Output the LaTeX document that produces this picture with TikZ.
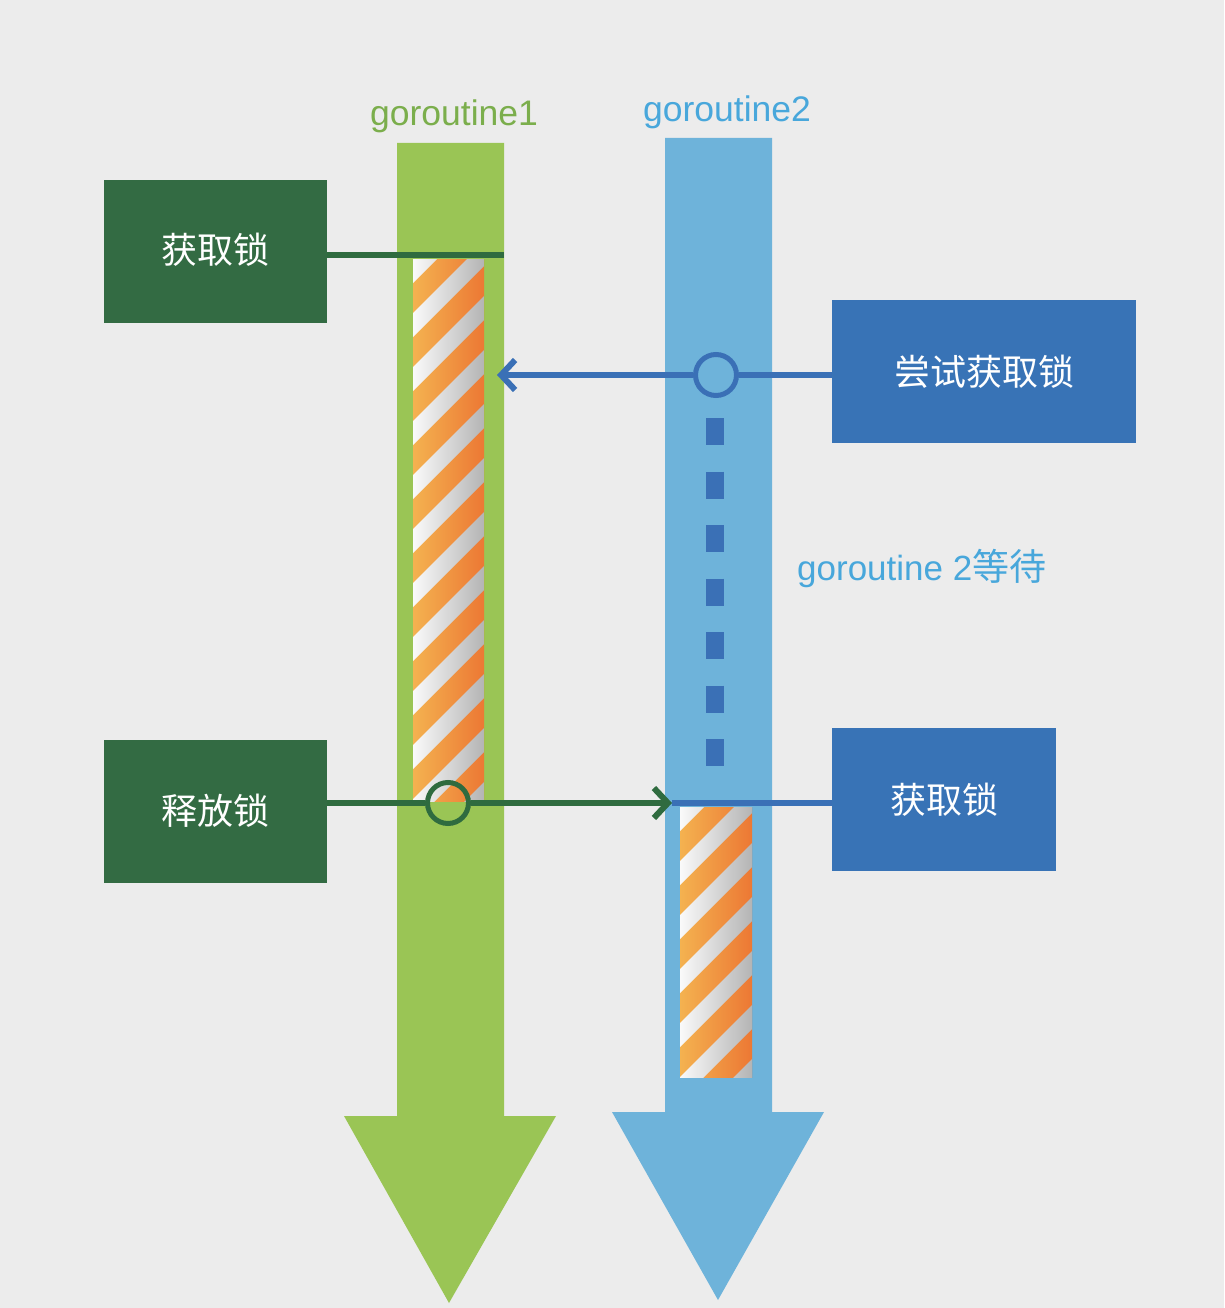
\documentclass[tikz,border=0pt]{standalone}
\usepackage{fontspec}
\setmainfont{Liberation Sans}
\newfontfamily\cjk{Noto Sans CJK SC}
\usetikzlibrary{arrows.meta}
\definecolor{bg}{HTML}{ECECEC}
\definecolor{garrow}{HTML}{9AC555}
\definecolor{barrow}{HTML}{6EB3DA}
\definecolor{gboxc}{HTML}{336B43}
\definecolor{bboxc}{HTML}{3873B6}
\definecolor{glinec}{HTML}{2F6B3F}
\definecolor{blinec}{HTML}{3A70B6}
\definecolor{gtext}{HTML}{7BAE4C}
\definecolor{btext}{HTML}{48A7DB}
\definecolor{orL}{HTML}{F4B250}
\definecolor{orR}{HTML}{EC7834}
\definecolor{whL}{HTML}{FAFAFA}
\definecolor{whR}{HTML}{B4B4B4}
\newcommand\candy[4]{%
  \begin{scope}
    \clip (#1,#2) rectangle (#3,#4);
    \shade[left color=orL, right color=orR] (#1,#2) rectangle (#3,#4);
    \pgfmathsetmacro\cw{#3-#1}
    \foreach \k in {-2,...,13}{
      \pgfmathsetmacro\ya{#2+\k*54}
      \shade[left color=whL, right color=whR]
        (#1,\ya) -- (#3,{\ya-\cw}) -- (#3,{\ya-\cw+24}) -- (#1,{\ya+24}) -- cycle;
    }
  \end{scope}}
\tikzset{
  gbox/.style={rectangle, fill=gboxc, text=white, minimum width=223pt, minimum height=143pt, inner sep=0pt, font=\cjk\fontsize{36}{40}\selectfont},
  bbox/.style={rectangle, fill=bboxc, text=white, minimum height=143pt, inner sep=0pt, font=\cjk\fontsize{36}{40}\selectfont},
  gline/.style={draw=glinec, line width=6pt},
  bline/.style={draw=blinec, line width=6pt},
  gcirc/.style={circle, draw=glinec, line width=5pt, minimum size=41pt, inner sep=0pt},
  bcirc/.style={circle, draw=blinec, line width=5pt, minimum size=41pt, inner sep=0pt},
  barb/.style={-{Straight Barb[length=14pt,width=30pt]}},
  title/.style={font=\fontsize{35.5}{40}\selectfont, inner sep=0pt},
}
\begin{document}
\begin{tikzpicture}[x=1pt,y=-1pt]
\fill[bg] (0,0) rectangle (1224,1308);
\useasboundingbox (0,0) rectangle (1224,1308);

% big arrows
\fill[garrow] (397,143) -- (504,143) -- (504,1116) -- (556,1116) -- (449,1303) -- (344,1116) -- (397,1116) -- cycle;
\fill[barrow] (665,138) -- (772,138) -- (772,1112) -- (824,1112) -- (718,1300) -- (612,1112) -- (665,1112) -- cycle;

% titles
\node[title, text=gtext] (t1) at (454,116) {goroutine1};
\node[title, text=btext] (t2) at (727,112) {goroutine2};

% striped lock periods
\candy{413}{259}{484}{801}
\candy{680}{807}{752}{1077}

% boxes
\node[gbox] (acq1) at (215.5,251.5) {\raisebox{7pt}{获取锁}};
\node[gbox] (rel) at (215.5,811) {\raisebox{4pt}{释放锁}};
\node[bbox, minimum width=304pt] (try) at (984,371.5) {尝试获取锁};
\node[bbox, minimum width=224pt] (acq2) at (944,799.5) {获取锁};

% goroutine 1 acquires
\coordinate (g1top) at (504,255);
\draw[gline] (acq1.east |- g1top) -- (g1top);

% goroutine 2 tries
\node[bcirc] (wc) at (716,375) {};
\coordinate (g1side) at (497,375);
\draw[bline] (try.west |- wc) -- (wc.east);
\draw[bline, barb] (wc.west) -- (g1side);

% waiting dashes
\coordinate (w0) at (715,418);
\coordinate (w1) at (715,768);
\draw[blinec, line width=18pt, dash pattern=on 27pt off 26.5pt] (w0) -- (w1);
\node[font=\fontsize{35}{40}\selectfont, text=btext, anchor=west, inner sep=0pt] (waitlbl) at (797,568) {goroutine 2{\cjk\fontsize{37}{40}\selectfont 等待}};

% release and hand over
\node[gcirc] (rc) at (448,803) {};
\coordinate (b2left) at (672,803);
\draw[bline] (b2left) -- (acq2.west |- b2left);
\draw[gline] (rel.east |- rc) -- (rc.west);
\draw[gline, barb] (rc.east) -- (b2left);
\end{tikzpicture}
\end{document}
